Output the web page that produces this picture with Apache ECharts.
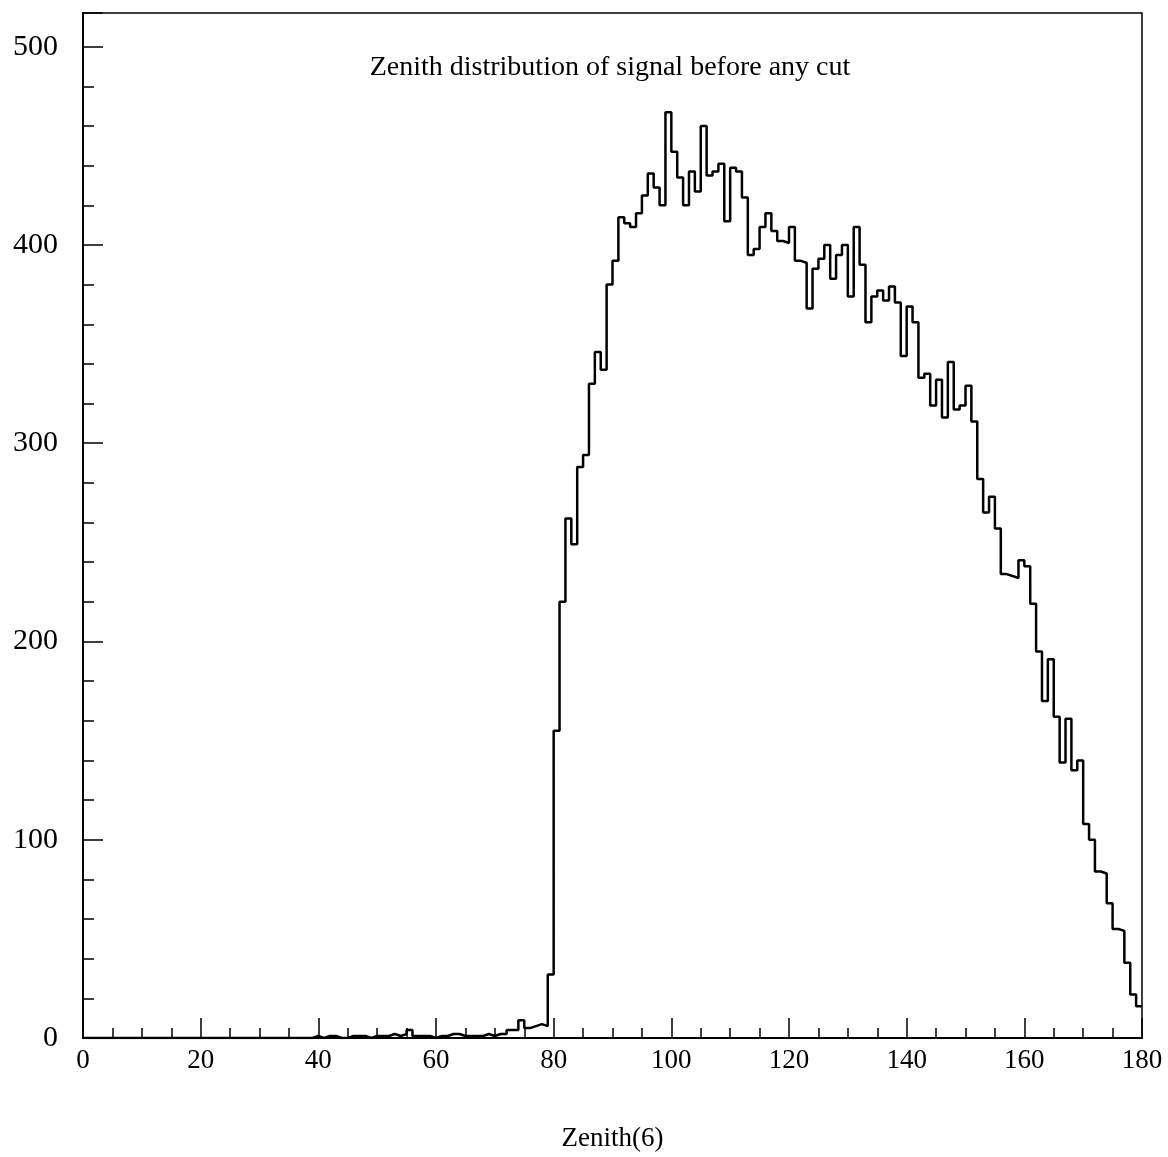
<!DOCTYPE html>
<html><head><meta charset="utf-8">
<script src="https://cdn.jsdelivr.net/npm/echarts@6/dist/echarts.min.js"></script>
<style>html,body{margin:0;padding:0;background:#fff}#c{width:1168px;height:1157px}</style>
</head><body><div id="c"></div>
<script>
const chartTitle = 'Zenith distribution of signal before any cut';
const xAxisName = 'Zenith(6)';
const binStart = 0;
const binWidth = 1;
// counts per 1-degree bin, bins 0..179
const countsLow = [
  0,0,0,0,0,0,0,0,0,0, 0,0,0,0,0,0,0,0,0,0,
  0,0,0,0,0,0,0,0,0,0, 0,0,0,0,0,0,0,0,0,1,
  0,1,1,0,0,1,1,1,0,1, 1,1,2,1,2,4,1,1,1,0,
  1,1,2,2,1,1,1,1,2,1, 2,2,4,4,9,5,6,7,6
];
const countsHigh = [
  32,155,220,262,249,288,294,330,346,337,
  380,392,414,411,409,416,425,436,429,420,
  467,447,434,420,437,427,460,435,437,441,
  412,439,437,424,395,398,409,416,407,402,
  401,409,392,391,368,388,393,400,383,395,
  400,374,409,390,361,374,377,372,379,371,
  344,369,361,333,335,319,332,313,341,317,
  319,329,311,282,265,273,257,234,233,232,
  241,238,219,195,170,191,162,139,161,135,
  140,108,100,84,83,68,55,54,38,22,
  16
];
const counts = countsLow.concat(countsHigh);
const xMin = 0, xMax = 180, xMajor = 20, xMinor = 5;
const yMin = 0, yMax = 517, yMajor = 100, yMinor = 20;

const points = counts.map((v, i) => [binStart + i * binWidth, v]);
points.push([binStart + counts.length * binWidth, counts[counts.length - 1]]);

const font = 'Liberation Serif';
const chart = echarts.init(document.getElementById('c'), null, {renderer: 'canvas'});
chart.setOption({
  animation: false,
  backgroundColor: '#fff',
  title: {
    text: chartTitle, left: 610, top: 54, textAlign: 'center', padding: 0,
    textStyle: {fontFamily: font, fontSize: 28, fontWeight: 'normal', color: '#000'}
  },
  grid: {left: 83, right: 26, top: 13, bottom: 118, show: true, borderColor: '#000', borderWidth: 1.5, backgroundColor: 'transparent'},
  xAxis: [
    {
      type: 'value', min: xMin, max: xMax, interval: xMajor, position: 'bottom',
      axisLine: {show: true, lineStyle: {color: '#000', width: 2}},
      axisTick: {show: true, inside: true, length: 20, lineStyle: {color: '#000', width: 1.5}},
      axisLabel: {fontFamily: font, fontSize: 27, color: '#000', margin: 9},
      splitLine: {show: false},
      name: xAxisName, nameLocation: 'middle', nameGap: 87,
      nameTextStyle: {fontFamily: font, fontSize: 27, color: '#000'}
    },
    {
      type: 'value', min: xMin, max: xMax, interval: xMinor, position: 'bottom',
      axisLine: {show: false},
      axisTick: {show: true, inside: true, length: 10, lineStyle: {color: '#000', width: 1.5}},
      axisLabel: {show: false}, splitLine: {show: false}
    }
  ],
  yAxis: [
    {
      type: 'value', min: yMin, max: yMax, interval: yMajor, position: 'left',
      axisLine: {show: true, lineStyle: {color: '#000', width: 2}},
      axisTick: {show: true, inside: true, length: 20, lineStyle: {color: '#000', width: 1.5}},
      axisLabel: {fontFamily: font, fontSize: 30, color: '#000', margin: 25,
        formatter: v => (v % yMajor === 0 ? String(v) : '')},
      splitLine: {show: false}
    },
    {
      type: 'value', min: yMin, max: yMax, interval: yMinor, position: 'left',
      axisLine: {show: false},
      axisTick: {show: true, inside: true, length: 11, lineStyle: {color: '#000', width: 1.5}},
      axisLabel: {show: false}, splitLine: {show: false}
    }
  ],
  series: [{
    type: 'line', xAxisIndex: 0, yAxisIndex: 0, step: 'end', symbol: 'none',
    data: points, lineStyle: {color: '#000', width: 2.5}
  }]
});
</script></body></html>
